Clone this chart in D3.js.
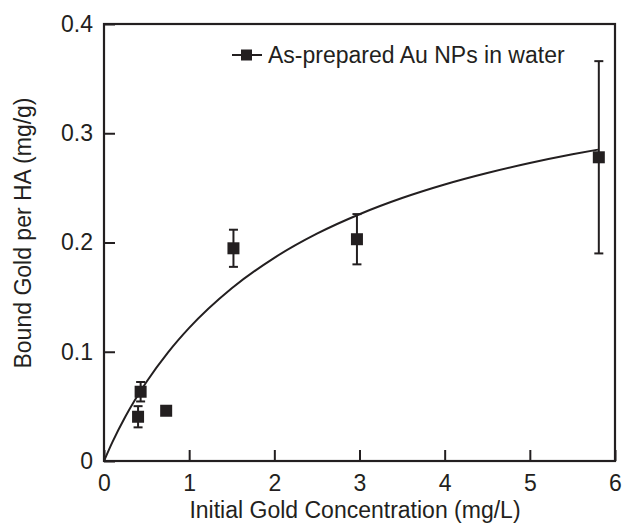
<!DOCTYPE html>
<html><head><meta charset="utf-8">
<script src="https://cdn.jsdelivr.net/npm/d3@7"></script>
<style>body{margin:0;background:#fff}svg{display:block}text{font-family:"Liberation Sans",Arial,sans-serif;fill:#231f20}</style>
</head><body><svg id="c" width="623" height="524"></svg>
<script>
const concX = [0.40, 0.43, 0.73, 1.52, 2.97, 5.81];
const boundY = [0.0405, 0.0634, 0.046, 0.1947, 0.203, 0.278];
const errY = [0.0097, 0.0089, 0, 0.017, 0.023, 0.088];
const fitX = [0, 0.1, 0.25, 0.5, 0.75, 1, 1.5, 2, 2.5, 3, 3.5, 4, 4.5, 5, 5.5, 5.8];
const fitY = [0, 0.0175, 0.0405, 0.0725, 0.0992, 0.1218, 0.1581, 0.186, 0.2081, 0.2259, 0.2407, 0.2531, 0.2636, 0.2727, 0.2807, 0.285];
const xTicks = [0, 1, 2, 3, 4, 5, 6];
const yTicks = [0, 0.1, 0.2, 0.3, 0.4];
const legendLabel = "As-prepared Au NPs in water";
const xTitle = "Initial Gold Concentration (mg/L)";
const yTitle = "Bound Gold per HA (mg/g)";

const ink = "#231f20";
const fs = 23;
const svg = d3.select("#c");
const L = 104, R = 615, T = 24, B = 461;
const x = d3.scaleLinear().domain([0, 6]).range([L, R]);
const y = d3.scaleLinear().domain([0, 0.4]).range([B, T]);

// frame
svg.append("rect").attr("x", L).attr("y", T).attr("width", R - L).attr("height", B - T)
  .attr("fill", "none").attr("stroke", ink).attr("stroke-width", 2.2);

// axes with inward ticks
const xa = svg.append("g").attr("transform", `translate(0,${B})`)
  .call(d3.axisBottom(x).tickValues(xTicks).tickFormat(d3.format("d")).tickSizeInner(-11).tickSizeOuter(0).tickPadding(14));
const ya = svg.append("g").attr("transform", `translate(${L},0)`)
  .call(d3.axisLeft(y).tickValues(yTicks).tickFormat(d => d === 0 ? "0" : d3.format(".1f")(d)).tickSizeInner(-11).tickSizeOuter(0).tickPadding(11));
[xa, ya].forEach(g => {
  g.select(".domain").remove();
  g.selectAll(".tick line").attr("stroke", ink).attr("stroke-width", 2);
  g.selectAll(".tick text").attr("font-size", fs).attr("fill", ink).style("font-family", "Liberation Sans, Arial, sans-serif");
});

// fit curve
const line = d3.line().x((d, i) => x(fitX[i])).y((d, i) => y(fitY[i])).curve(d3.curveMonotoneX);
svg.append("path").datum(fitY).attr("d", line).attr("fill", "none").attr("stroke", ink).attr("stroke-width", 2);

// error bars
const cap = 4.5;
const eg = svg.append("g").attr("stroke", ink).attr("stroke-width", 2);
concX.forEach((cx, i) => {
  if (!errY[i]) return;
  const px = x(cx), y1 = y(boundY[i] + errY[i]), y2 = y(boundY[i] - errY[i]);
  eg.append("line").attr("x1", px).attr("x2", px).attr("y1", y1).attr("y2", y2);
  eg.append("line").attr("x1", px - cap).attr("x2", px + cap).attr("y1", y1).attr("y2", y1);
  eg.append("line").attr("x1", px - cap).attr("x2", px + cap).attr("y1", y2).attr("y2", y2);
});

// markers
const s = 12;
svg.append("g").selectAll("rect").data(concX).join("rect")
  .attr("x", d => x(d) - s / 2).attr("y", (d, i) => y(boundY[i]) - s / 2)
  .attr("width", s).attr("height", s).attr("fill", ink);

// legend
const lg = svg.append("g").attr("transform", "translate(0,55)");
lg.append("line").attr("x1", 232).attr("x2", 262).attr("y1", 0).attr("y2", 0).attr("stroke", ink).attr("stroke-width", 2);
lg.append("rect").attr("x", 241).attr("y", -5.5).attr("width", 11).attr("height", 11).attr("fill", ink);
lg.append("text").attr("x", 268).attr("y", 0).attr("dy", "0.35em").attr("font-size", fs).text(legendLabel);

// titles
svg.append("text").attr("x", 355).attr("y", 518).attr("text-anchor", "middle").attr("font-size", fs).text(xTitle);
svg.append("text").attr("transform", `translate(31,233) rotate(-90)`).attr("text-anchor", "middle").attr("font-size", fs).text(yTitle);
</script></body></html>
